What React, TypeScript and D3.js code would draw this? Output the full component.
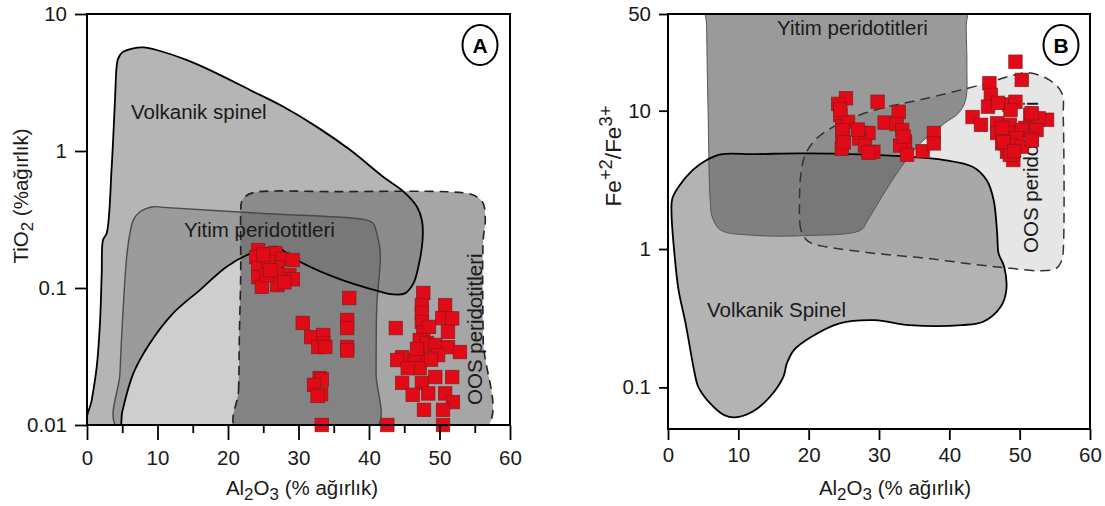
import React, { useEffect, useRef } from "react";
import * as d3 from "d3";

type Pt = [number, number];

const FONT = "'Liberation Sans', Arial, Helvetica, sans-serif";

// axis ticks
const xTicks = [0, 10, 20, 30, 40, 50, 60];
const xMinorTicksA = [5, 15, 25, 35, 45, 55];
const yTicksA = [0.01, 0.1, 1, 10];
const yTicksB = [0.1, 1, 10, 50];

// panel A fields (Al2O3 %, TiO2 %)
const aVolkanik: Pt[] = [
  [0, 0.01], [0.67, 0.0152], [1.38, 0.0266], [1.84, 0.0555], [2.09, 0.1287], [2.27, 0.224],
  [2.8, 0.252], [3.5, 0.764], [3.97, 2.36], [4.2, 4.12], [4.4, 4.7], [5.0, 5.25], [6.57, 5.62],
  [7.99, 5.71], [9.89, 5.46], [14.1, 4.62], [18.4, 3.69], [23.1, 2.79], [27.8, 2.11], [32.6, 1.5],
  [37.3, 1.02], [42.0, 0.649], [44.9, 0.505], [46.8, 0.392], [47.5, 0.313], [47.6, 0.224],
  [47.0, 0.143], [46.3, 0.108], [45.1, 0.0914], [43.4, 0.0899], [41.6, 0.094], [34.9, 0.121],
  [29.3, 0.165], [26.9, 0.2], [25.5, 0.195], [22.7, 0.174], [19.8, 0.143], [16.0, 0.0966],
  [12.2, 0.0653], [8.9, 0.0394], [6.57, 0.0238], [5.0, 0.0125], [4.5, 0.0092],
];
const aYitim: Pt[] = [
  [4.44, 0.0092], [4.68, 0.024], [5.15, 0.073], [5.63, 0.169], [6.1, 0.252], [6.57, 0.313],
  [7.52, 0.36], [9.4, 0.392], [10.8, 0.388], [25.0, 0.35], [39.7, 0.313], [40.6, 0.296],
  [41.1, 0.251], [41.6, 0.179], [41.1, 0.073], [41.0, 0.024], [40.9, 0.0092],
];
const aOOS: Pt[] = [
  [21.2, 0.0092], [21.5, 0.018], [21.6, 0.0417], [21.8, 0.1287], [21.8, 0.351], [21.9, 0.42],
  [22.4, 0.463], [23.6, 0.497], [34.9, 0.505], [53.9, 0.491], [55.3, 0.463], [56.2, 0.415],
  [56.5, 0.313], [56.2, 0.224], [56.2, 0.0417], [56.5, 0.0092],
];

// panel B fields (Al2O3 %, Fe2+/Fe3+)
const bVolkanik: Pt[] = [
  [7.5, 4.84], [12.5, 4.85], [19.4, 4.92], [34.3, 4.65], [39.3, 4.4], [43.3, 3.93], [45.3, 3.15],
  [46.3, 2.26], [46.8, 1.3], [47.0, 0.93], [47.8, 0.745], [48.1, 0.505], [47.3, 0.383],
  [44.8, 0.298], [41.8, 0.282], [34.3, 0.282], [29.4, 0.306], [24.4, 0.29], [20.4, 0.232],
  [17.9, 0.186], [16.9, 0.149], [16.4, 0.119], [14.5, 0.0855], [12.0, 0.0666], [9.5, 0.0607],
  [8.0, 0.063], [6.0, 0.0766], [4.3, 0.101], [3.8, 0.126], [2.5, 0.29], [1.5, 0.505],
  [1.0, 0.832], [0.5, 1.81], [0.6, 2.3], [1.5, 2.82], [3.5, 3.72], [5.5, 4.4],
];
const bYitim: Pt[] = [
  [5.5, 90], [5.5, 40], [5.7, 10], [6.0, 2.26], [6.3, 1.7], [7.5, 1.37], [11.9, 1.26], [19.4, 1.25],
  [27.4, 1.37], [28.4, 1.62], [31.9, 3.15], [35.4, 5.5], [39.3, 8.1], [41.3, 9.6], [42.3, 11.9],
  [42.5, 20.8], [42.4, 40], [42.4, 90],
];
const bOOS: Pt[] = [
  [19.7, 1.16], [18.9, 1.37], [18.7, 2.26], [18.9, 3.52], [19.4, 4.65], [20.9, 6.14], [24.4, 8.1],
  [29.4, 10.1], [36.8, 12.3], [44.3, 15.3], [49.2, 18.1], [51.2, 18.8], [54.2, 16.7], [56.0, 13.4],
  [56.2, 9.0], [56.2, 0.98], [56.0, 0.832], [55.2, 0.725], [52.7, 0.697], [48.7, 0.725],
  [44.3, 0.766], [36.8, 0.856], [29.4, 0.93], [22.4, 1.04], [20.4, 1.1],
];

// samples
const aSamples: Pt[] = [
  [24.3, 0.189], [24.0, 0.168], [26.7, 0.18], [27.8, 0.163], [29.2, 0.16], [24.3, 0.14],
  [24.3, 0.12], [27.0, 0.142], [27.0, 0.127], [28.7, 0.124], [29.2, 0.116], [24.8, 0.102],
  [27.0, 0.105], [25.7, 0.155], [25.5, 0.124], [25.0, 0.175], [26.0, 0.135], [28.0, 0.11],
  [37.2, 0.0845], [30.6, 0.0556], [36.9, 0.0584], [36.9, 0.051], [31.8, 0.0438], [33.5, 0.0454],
  [33.5, 0.0397], [32.8, 0.0371], [33.8, 0.0371], [36.9, 0.0371], [36.9, 0.035], [33.0, 0.022],
  [33.3, 0.0215], [32.2, 0.0196], [33.2, 0.0168], [32.7, 0.0163], [33.3, 0.01],
  [47.7, 0.092], [50.8, 0.075], [47.5, 0.075], [43.8, 0.051], [47.5, 0.0658], [47.5, 0.0565],
  [50.4, 0.0603], [51.8, 0.06], [51.2, 0.0478], [47.7, 0.0475], [47.2, 0.0417], [48.2, 0.0397],
  [49.4, 0.0384], [51.2, 0.037], [52.9, 0.0341], [44.7, 0.0313], [47.7, 0.0313], [49.8, 0.0324],
  [44.0, 0.0298], [46.5, 0.0298], [47.2, 0.026], [45.5, 0.026], [49.4, 0.0224], [51.8, 0.0224],
  [44.7, 0.0203], [47.5, 0.0203], [46.2, 0.0166], [48.4, 0.017], [50.8, 0.017], [51.9, 0.0147],
  [47.8, 0.0129], [50.5, 0.0129], [42.6, 0.01], [50.5, 0.01], [48.5, 0.052], [46.8, 0.036],
  [48.8, 0.03],
];
const bSamples: Pt[] = [
  [25.3, 12.3], [24.2, 11.2], [24.5, 9.3], [29.8, 11.6], [32.8, 9.8], [30.8, 8.2], [32.5, 8.0],
  [24.8, 7.7], [24.8, 6.5], [25.6, 8.3], [27.6, 6.9], [28.5, 6.9], [27.2, 6.3], [24.7, 5.3],
  [28.0, 5.6], [29.2, 5.05], [28.5, 4.97], [33.3, 7.25], [33.7, 6.0], [33.0, 5.6], [34.0, 4.8],
  [36.2, 5.1], [37.8, 6.9], [37.8, 5.8], [24.5, 10.2], [24.8, 7.2], [25.0, 5.9], [27.0, 7.3],
  [33.5, 6.5],
  [49.4, 22.6], [50.3, 16.7], [45.7, 15.8], [45.9, 13.0], [45.5, 10.7], [43.3, 9.0], [44.5, 7.9],
  [48.5, 11.1], [49.4, 11.6], [51.5, 9.3], [53.9, 8.6], [52.7, 8.8], [46.8, 8.1], [48.6, 7.9],
  [50.8, 7.5], [52.4, 7.25], [46.8, 6.9], [48.4, 6.9], [50.3, 7.25], [51.7, 6.3], [49.6, 6.3],
  [47.5, 5.8], [48.6, 5.65], [50.3, 5.5], [48.2, 5.05], [49.1, 4.4], [48.6, 4.8], [47.5, 7.5],
  [47.7, 5.95], [51.7, 9.6], [48.7, 10.1], [46.9, 11.4], [51.7, 6.1], [49.2, 5.1],
];

function drawPanel(svg: any, p: any) {
  const x = d3.scaleLinear().domain([0, 60]).range([p.left, p.right]);
  const y = d3.scaleLog().domain(p.yDomain).range([p.bottom, p.top]);
  const line = d3
    .line<Pt>()
    .x((d) => x(d[0]))
    .y((d) => y(d[1]))
    .curve(d3.curveCatmullRomClosed.alpha(0.5));

  const defs = svg.append("defs");
  defs
    .append("clipPath")
    .attr("id", `${p.id}-area`)
    .append("rect")
    .attr("x", p.left)
    .attr("y", p.top)
    .attr("width", p.right - p.left)
    .attr("height", p.bottom - p.top);

  const paths: Record<string, string> = {};
  Object.keys(p.fields).forEach((k) => {
    paths[k] = line(p.fields[k]) as string;
    defs.append("clipPath").attr("id", `${p.id}-${k}`).append("path").attr("d", paths[k]);
  });

  // filled fields, overlaps get their own tone
  const area = svg.append("g").attr("clip-path", `url(#${p.id}-area)`);
  p.fills.forEach(([keys, color]: [string[], string]) => {
    let g = area;
    keys.slice(1).forEach((k) => {
      g = g.append("g").attr("clip-path", `url(#${p.id}-${k})`);
    });
    g.append("path").attr("d", paths[keys[0]]).attr("fill", color);
  });

  p.outlines.forEach((o: any) => {
    area
      .append("path")
      .attr("d", paths[o.key])
      .attr("fill", "none")
      .attr("stroke", o.stroke)
      .attr("stroke-width", o.width)
      .attr("stroke-dasharray", o.dash || null)
      .attr("stroke-linejoin", "round");
  });

  // field names
  p.labels.forEach((l: any) => {
    svg
      .append("text")
      .attr("transform", `translate(${l.x},${l.y})${l.rotate ? " rotate(-90)" : ""}`)
      .attr("font-family", FONT)
      .attr("font-size", 20.5)
      .attr("fill", "#1a1a1a")
      .text(l.text);
  });

  // samples
  const s = 13.5;
  svg
    .append("g")
    .selectAll("rect")
    .data(p.samples)
    .join("rect")
    .attr("x", (d: Pt) => x(d[0]) - s / 2)
    .attr("y", (d: Pt) => y(d[1]) - s / 2)
    .attr("width", s)
    .attr("height", s)
    .attr("fill", "#e30a17")
    .attr("stroke", "#7d1a1a")
    .attr("stroke-opacity", 0.8)
    .attr("stroke-width", 0.8);

  // axes
  const styleAxis = (g: any) => {
    g.attr("font-size", 20.5).attr("font-family", FONT);
    g.select(".domain").remove();
    g.selectAll(".tick line").attr("stroke", "#000").attr("stroke-width", 1.8);
    g.selectAll(".tick text").attr("fill", "#1a1a1a");
  };

  svg
    .append("g")
    .attr("transform", `translate(0,${p.bottom})`)
    .call(
      d3.axisBottom(x).tickValues(xTicks).tickSize(p.xTickSize).tickSizeOuter(0)
        .tickPadding(p.xPad).tickFormat(d3.format("d"))
    )
    .call(styleAxis);

  if (p.xMinor) {
    svg
      .append("g")
      .attr("transform", `translate(0,${p.bottom})`)
      .call(d3.axisBottom(x).tickValues(p.xMinor).tickSize(8).tickSizeOuter(0).tickFormat(() => ""))
      .call(styleAxis);
  }

  svg
    .append("g")
    .attr("transform", `translate(${p.left},0)`)
    .call(
      d3.axisLeft(y).tickValues(p.yTicks).tickSize(p.yTickSize).tickSizeOuter(0)
        .tickPadding(8).tickFormat((d: any) => String(d))
    )
    .call(styleAxis);

  svg
    .append("rect")
    .attr("x", p.left)
    .attr("y", p.top)
    .attr("width", p.right - p.left)
    .attr("height", p.bottom - p.top)
    .attr("fill", "none")
    .attr("stroke", "#000")
    .attr("stroke-width", 2);

  // panel badge
  svg
    .append("ellipse")
    .attr("cx", p.badge.x)
    .attr("cy", p.badge.y)
    .attr("rx", 17.5)
    .attr("ry", 20)
    .attr("fill", "#fff")
    .attr("stroke", "#000")
    .attr("stroke-width", 2);
  svg
    .append("text")
    .attr("x", p.badge.x)
    .attr("y", p.badge.y)
    .attr("dy", "0.36em")
    .attr("text-anchor", "middle")
    .attr("font-family", FONT)
    .attr("font-weight", "bold")
    .attr("font-size", 21)
    .text(p.badge.text);

  // x title Al2O3
  const xt = svg
    .append("text")
    .attr("x", p.xTitle.x)
    .attr("y", 495)
    .attr("text-anchor", "middle")
    .attr("font-family", FONT)
    .attr("font-size", 20.5)
    .attr("fill", "#1a1a1a");
  xt.append("tspan").text("Al");
  xt.append("tspan").attr("font-size", 17).attr("dy", 5).text("2");
  xt.append("tspan").attr("dy", -5).text("O");
  xt.append("tspan").attr("font-size", 17).attr("dy", 5).text("3");
  xt.append("tspan").attr("dy", -5).text(" (% ağırlık)");
}

export default function App() {
  const ref = useRef<SVGSVGElement>(null);

  useEffect(() => {
    const svg = d3.select(ref.current);
    svg.selectAll("*").remove();

    drawPanel(svg, {
      id: "pa",
      left: 87, right: 510, top: 14, bottom: 425,
      yDomain: [0.01, 10],
      yTicks: yTicksA,
      xMinor: xMinorTicksA,
      xTickSize: 15, xPad: 10,
      yTickSize: 12,
      fields: { V: aVolkanik, Y: aYitim, O: aOOS },
      fills: [
        [["V"], "#b5b5b5"], [["Y"], "#cecece"], [["O"], "#a6a6a6"],
        [["V", "Y"], "#9b9b9b"], [["O", "Y"], "#838383"], [["O", "V"], "#8b8b8b"],
        [["O", "V", "Y"], "#787878"],
      ],
      outlines: [
        { key: "Y", stroke: "#4a4a4a", width: 1.4 },
        { key: "V", stroke: "#000", width: 1.8 },
        { key: "O", stroke: "#222", width: 1.6, dash: "9,6" },
      ],
      labels: [
        { text: "Volkanik spinel", x: 131, y: 119 },
        { text: "Yitim peridotitleri", x: 184, y: 237 },
        { text: "OOS peridotitleri", x: 482, y: 405, rotate: true },
      ],
      samples: aSamples,
      badge: { x: 480, y: 45, text: "A" },
      xTitle: { x: 302 },
    });

    drawPanel(svg, {
      id: "pb",
      left: 668, right: 1090, top: 14, bottom: 429,
      yDomain: [0.05, 50],
      yTicks: yTicksB,
      xMinor: null,
      xTickSize: 11, xPad: 7,
      yTickSize: 9,
      fields: { V: bVolkanik, Y: bYitim, O: bOOS },
      fills: [
        [["V"], "#b3b3b3"], [["Y"], "#9a9a9a"], [["O"], "#e6e6e6"],
        [["V", "Y"], "#808080"], [["O", "V"], "#a8a8a8"], [["O", "Y"], "#8d8d8d"],
        [["O", "V", "Y"], "#787878"],
      ],
      outlines: [
        { key: "Y", stroke: "#555", width: 1 },
        { key: "V", stroke: "#000", width: 1.8 },
        { key: "O", stroke: "#333", width: 1.5, dash: "10,6" },
      ],
      labels: [
        { text: "Yitim peridotitleri", x: 777, y: 35 },
        { text: "Volkanik Spinel", x: 707, y: 317 },
        { text: "OOS peridotitleri", x: 1038, y: 253, rotate: true },
      ],
      samples: bSamples,
      badge: { x: 1061, y: 45, text: "B" },
      xTitle: { x: 895 },
    });

    // y titles
    const ya = svg
      .append("text")
      .attr("transform", "translate(28,196) rotate(-90)")
      .attr("text-anchor", "middle")
      .attr("font-family", FONT)
      .attr("font-size", 20.5)
      .attr("fill", "#1a1a1a");
    ya.append("tspan").text("TiO");
    ya.append("tspan").attr("font-size", 17).attr("dy", 5).text("2");
    ya.append("tspan").attr("dy", -5).text(" (%ağırlık)");

    const yb = svg
      .append("text")
      .attr("transform", "translate(621,156) rotate(-90)")
      .attr("text-anchor", "middle")
      .attr("font-family", FONT)
      .attr("font-size", 22.5)
      .attr("fill", "#1a1a1a");
    yb.append("tspan").text("Fe");
    yb.append("tspan").attr("font-size", 18.5).attr("dy", -9).text("+2");
    yb.append("tspan").attr("dy", 9).text("/Fe");
    yb.append("tspan").attr("font-size", 18.5).attr("dy", -9).text("3+");
  }, []);

  return (
    <svg
      ref={ref}
      width={1105}
      height={506}
      style={{ position: "absolute", left: 0, top: 0, background: "#fff" }}
    />
  );
}
